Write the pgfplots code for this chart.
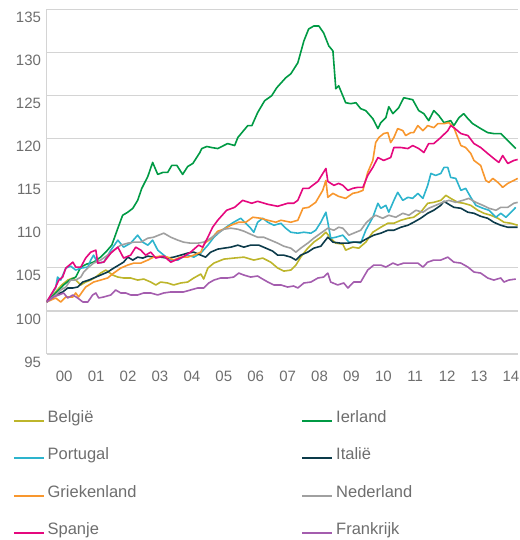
\documentclass[border=0pt]{standalone}
\usepackage{pgfplots}
\pgfplotsset{compat=1.18}
\usepackage{fontspec}
\setmainfont{Liberation Sans}
\definecolor{cBE}{HTML}{BDB52B}
\definecolor{cIE}{HTML}{009A44}
\definecolor{cPT}{HTML}{2DB4CD}
\definecolor{cIT}{HTML}{0C3B4A}
\definecolor{cGR}{HTML}{F8972E}
\definecolor{cNL}{HTML}{A0A0A0}
\definecolor{cES}{HTML}{E5087E}
\definecolor{cFR}{HTML}{A45DAE}
\definecolor{txt}{HTML}{6E6E6E}
\definecolor{grd}{HTML}{D4D4D4}
\newcommand{\st}{\rule[-4pt]{0pt}{16pt}}
\begin{document}
\begin{tikzpicture}
\begin{axis}[
  scale only axis, width=471.3pt, height=344.7pt,
  xmin=0, xmax=14.77, ymin=95, ymax=135,
  ytick={95,100,105,110,115,120,125,130,135},
  xtick={0.55,1.55,2.55,3.55,4.55,5.55,6.55,7.55,8.55,9.55,10.55,11.55,12.55,13.55,14.55},
  xticklabels={00,01,02,03,04,05,06,07,08,09,10,11,12,13,14},
  axis lines=left,
  axis line style={draw=grd, line width=1.3pt, -},
  ymajorgrids, grid style={draw=grd, line width=1.3pt},
  major tick length=0pt,
  /pgf/number format/assume math mode=true,
  tick label style={font=\fontsize{15}{15}\selectfont, text=txt},
  yticklabel style={anchor=east, inner sep=0pt, xshift=-5.5pt, yshift=-8pt},
  xticklabel style={anchor=north, inner sep=0pt, yshift=-17pt},
  legend columns=2,
  legend cell align=left,
  legend style={at={(axis description cs:-0.0715,-0.1625)}, anchor=north west,
    draw=none, fill=none, inner sep=0pt, outer sep=0pt,
    column sep=3pt, row sep=24pt,
    font=\fontsize{16.5}{16.5}\selectfont, text=txt, nodes={inner sep=0pt}},
  legend image code/.code={\draw[#1] (0pt,-4pt) -- (30pt,-4pt);},
  every axis plot/.append style={line width=1.6pt, line join=round},
]
% Belgie
\addplot[cBE] coordinates {(0,101.04) (0.25,102.08) (0.47,103.01) (0.66,103.58) (0.82,103.82) (0.91,103.58) (1.07,103.01) (1.22,103.35) (1.38,103.58) (1.54,103.93) (1.69,104.39) (1.85,104.74) (1.94,104.51) (2.07,104.16) (2.23,103.93) (2.41,103.82) (2.63,103.82) (2.85,103.58) (3.04,103.70) (3.26,103.35) (3.42,103.01) (3.57,103.35) (3.79,103.24) (3.98,103.01) (4.20,103.24) (4.42,103.35) (4.61,103.82) (4.83,104.28) (4.92,103.70) (5.05,104.97) (5.24,105.55) (5.55,106.01) (5.86,106.13) (6.18,106.24) (6.49,105.90) (6.77,106.13) (7.02,105.66) (7.24,104.97) (7.43,104.62) (7.65,104.74) (7.81,105.32) (7.96,106.24) (8.18,107.28) (8.37,107.98) (8.59,108.55) (8.75,109.13) (8.90,108.44) (9.06,107.86) (9.28,107.75) (9.37,107.05) (9.59,107.40) (9.78,107.28) (10.00,107.98) (10.22,109.13) (10.47,109.71) (10.69,110.17) (10.88,110.17) (11.10,110.52) (11.32,110.75) (11.50,110.87) (11.72,111.45) (11.94,112.49) (12.13,112.60) (12.35,112.83) (12.51,113.41) (12.66,113.06) (12.88,112.60) (13.07,112.49) (13.29,112.25) (13.51,111.68) (13.70,111.33) (13.92,111.10) (14.14,110.75) (14.33,110.29) (14.55,110.17) (14.76,109.94)};
\addlegendentry{\makebox[251pt][l]{\st België}}
% Ierland
\addplot[cIE] coordinates {(0,101.04) (0.19,101.73) (0.38,102.43) (0.53,103.01) (0.72,103.58) (0.91,103.93) (1.07,105.09) (1.25,105.43) (1.47,105.66) (1.69,106.24) (1.85,106.82) (2.04,107.63) (2.23,109.60) (2.38,111.10) (2.54,111.45) (2.70,111.91) (2.85,112.83) (2.98,114.22) (3.17,115.61) (3.32,117.23) (3.48,115.84) (3.64,116.07) (3.79,116.07) (3.92,116.88) (4.08,116.88) (4.26,115.84) (4.42,116.76) (4.58,117.11) (4.80,118.38) (4.86,118.84) (5.02,119.08) (5.17,118.96) (5.36,118.84) (5.67,119.42) (5.89,119.19) (5.99,120.12) (6.30,121.50) (6.43,121.50) (6.61,123.01) (6.83,124.39) (7.05,124.97) (7.21,125.90) (7.49,127.05) (7.65,127.51) (7.87,128.79) (8.06,131.33) (8.21,132.72) (8.37,133.06) (8.53,133.06) (8.68,132.25) (8.84,130.75) (8.97,130.17) (9.06,125.78) (9.15,126.13) (9.37,124.16) (9.53,124.05) (9.69,124.16) (9.84,123.47) (10.00,123.24) (10.22,122.31) (10.38,121.16) (10.47,121.85) (10.63,122.43) (10.72,123.70) (10.85,122.89) (11.03,123.58) (11.19,124.74) (11.47,124.51) (11.66,123.24) (11.82,122.89) (11.97,122.08) (12.13,123.24) (12.29,122.66) (12.45,121.85) (12.66,122.08) (12.76,121.50) (12.92,122.43) (13.07,122.89) (13.20,122.31) (13.35,121.73) (13.60,121.16) (13.82,120.69) (14.01,120.58) (14.23,120.58) (14.45,119.77) (14.70,118.84)};
\addlegendentry{\st Ierland}
% Portugal
\addplot[cPT] coordinates {(0,101.04) (0.28,102.66) (0.34,103.93) (0.44,103.58) (0.60,104.97) (0.75,105.20) (0.91,104.74) (1.07,104.97) (1.29,105.09) (1.38,105.90) (1.47,106.47) (1.60,105.55) (1.79,105.66) (2.01,107.05) (2.23,108.21) (2.41,107.40) (2.63,107.86) (2.85,108.79) (3.01,107.98) (3.17,107.63) (3.32,108.21) (3.48,107.05) (3.67,106.47) (3.89,105.90) (4.11,105.90) (4.26,106.24) (4.42,106.47) (4.61,106.24) (4.83,106.71) (5.05,107.63) (5.24,108.55) (5.45,109.25) (5.67,109.83) (5.86,110.29) (6.08,110.75) (6.24,110.17) (6.39,109.60) (6.49,109.13) (6.61,110.29) (6.77,110.75) (6.93,110.29) (7.12,109.94) (7.34,110.17) (7.49,109.60) (7.65,109.13) (7.87,109.02) (8.06,109.13) (8.28,109.02) (8.43,109.36) (8.59,110.29) (8.75,111.45) (8.81,110.29) (8.90,108.44) (9.06,108.55) (9.28,108.79) (9.47,107.98) (9.69,107.98) (9.84,107.86) (10.00,109.36) (10.22,110.87) (10.38,112.49) (10.47,111.91) (10.63,112.25) (10.72,111.45) (10.88,112.83) (11.00,113.76) (11.16,112.83) (11.32,113.18) (11.47,113.06) (11.63,113.64) (11.79,113.06) (11.94,114.57) (12.04,115.95) (12.19,115.72) (12.35,115.95) (12.45,116.65) (12.57,116.65) (12.66,115.49) (12.82,115.38) (12.98,113.99) (13.13,114.22) (13.29,113.18) (13.45,112.25) (13.67,111.91) (13.86,111.68) (14.08,110.87) (14.23,111.33) (14.39,110.87) (14.55,111.45) (14.70,112.02)};
\addlegendentry{\makebox[251pt][l]{\st Portugal}}
% Italie
\addplot[cIT] coordinates {(0,101.04) (0.28,101.85) (0.50,102.20) (0.66,102.66) (0.82,102.66) (0.97,102.77) (1.13,103.35) (1.32,103.58) (1.54,103.93) (1.69,104.16) (1.91,104.51) (2.10,104.97) (2.26,105.32) (2.41,105.66) (2.54,106.24) (2.70,105.90) (2.85,106.24) (3.01,106.13) (3.17,106.36) (3.35,106.24) (3.57,106.24) (3.79,106.13) (3.98,106.24) (4.20,106.47) (4.42,106.71) (4.61,106.82) (4.83,106.47) (4.98,106.24) (5.14,106.82) (5.36,107.17) (5.55,107.28) (5.77,107.40) (5.99,107.63) (6.18,107.40) (6.39,107.63) (6.65,107.63) (6.87,107.28) (7.08,106.94) (7.24,106.47) (7.43,106.47) (7.65,106.24) (7.81,105.90) (7.96,106.47) (8.18,106.82) (8.37,107.28) (8.59,107.51) (8.81,108.55) (8.97,107.98) (9.22,107.86) (9.44,107.86) (9.62,107.98) (9.84,107.98) (10.06,108.44) (10.25,108.79) (10.47,109.02) (10.69,109.36) (10.88,109.36) (11.10,109.71) (11.32,109.94) (11.50,110.29) (11.72,110.75) (11.94,111.33) (12.13,111.68) (12.35,112.25) (12.45,112.72) (12.60,112.37) (12.76,112.02) (12.98,111.91) (13.20,111.45) (13.39,111.33) (13.60,110.98) (13.82,110.75) (14.01,110.29) (14.23,109.94) (14.45,109.71) (14.76,109.71)};
\addlegendentry{\st Italië}
% Griekenland
\addplot[cGR] coordinates {(0,101.04) (0.28,101.50) (0.44,101.04) (0.60,101.62) (0.82,101.62) (0.91,102.08) (1.00,101.62) (1.22,102.77) (1.47,103.35) (1.69,103.58) (1.91,103.82) (2.10,104.39) (2.32,104.97) (2.54,105.32) (2.73,105.55) (2.95,105.55) (3.17,105.90) (3.35,106.24) (3.57,106.36) (3.79,106.24) (3.98,105.90) (4.20,106.24) (4.42,106.24) (4.61,106.47) (4.83,106.82) (4.95,107.86) (5.17,108.44) (5.36,109.25) (5.55,109.48) (5.77,109.94) (6.02,110.29) (6.24,110.29) (6.46,110.87) (6.71,110.75) (6.93,110.52) (7.18,110.29) (7.34,110.52) (7.65,110.29) (7.87,110.52) (8.03,111.91) (8.21,112.02) (8.43,112.60) (8.65,113.99) (8.75,115.14) (8.81,113.18) (8.97,113.64) (9.15,113.29) (9.37,113.06) (9.59,113.64) (9.75,113.76) (9.91,113.99) (10.06,116.07) (10.22,117.46) (10.31,119.54) (10.41,120.12) (10.56,120.58) (10.69,120.69) (10.78,119.54) (10.88,120.12) (11.00,121.16) (11.16,120.92) (11.25,120.35) (11.41,120.69) (11.50,120.69) (11.63,121.50) (11.79,120.92) (11.94,121.50) (12.13,121.27) (12.26,121.73) (12.45,121.73) (12.60,121.85) (12.76,121.27) (12.88,120.12) (12.98,119.19) (13.13,118.96) (13.29,118.27) (13.39,117.46) (13.60,116.88) (13.76,115.14) (13.86,114.91) (13.98,115.38) (14.14,114.91) (14.29,114.34) (14.45,114.80) (14.64,115.14) (14.76,115.38)};
\addlegendentry{\makebox[251pt][l]{\st Griekenland}}
% Nederland
\addplot[cNL] coordinates {(0,101.04) (0.28,101.85) (0.44,102.43) (0.60,102.77) (0.75,103.58) (0.91,103.58) (1.07,103.93) (1.16,104.51) (1.32,105.09) (1.47,105.55) (1.69,105.90) (1.91,106.47) (2.10,107.05) (2.32,107.63) (2.54,107.86) (2.73,107.98) (2.95,107.98) (3.17,108.44) (3.35,108.55) (3.51,108.79) (3.67,109.02) (3.89,108.55) (4.11,108.21) (4.29,107.98) (4.51,107.86) (4.73,107.86) (4.92,107.98) (5.14,108.44) (5.36,109.02) (5.55,109.48) (5.77,109.60) (5.99,109.48) (6.18,109.25) (6.39,108.90) (6.61,108.55) (6.80,108.55) (7.02,108.21) (7.24,107.86) (7.43,107.51) (7.65,107.28) (7.81,106.82) (7.96,107.28) (8.18,107.86) (8.37,108.44) (8.59,109.02) (8.81,109.60) (9.00,109.36) (9.15,109.71) (9.28,109.60) (9.47,108.79) (9.69,109.13) (9.84,109.36) (10.00,110.17) (10.16,110.75) (10.31,111.10) (10.53,110.75) (10.72,111.10) (10.94,110.87) (11.16,111.33) (11.35,111.10) (11.57,111.68) (11.79,111.45) (11.97,111.91) (12.19,112.25) (12.41,112.60) (12.60,112.83) (12.82,112.60) (13.04,112.83) (13.23,113.06) (13.45,112.60) (13.67,112.25) (13.86,111.91) (14.08,111.68) (14.23,112.02) (14.45,112.02) (14.64,112.49) (14.76,112.60)};
\addlegendentry{\st Nederland}
% Spanje
\addplot[cES] coordinates {(0,101.04) (0.28,102.77) (0.38,103.58) (0.50,103.93) (0.60,104.97) (0.82,105.66) (0.91,105.09) (1.07,105.09) (1.22,106.13) (1.38,106.82) (1.54,107.05) (1.60,105.55) (1.79,105.66) (2.01,106.71) (2.23,107.40) (2.41,106.13) (2.63,106.47) (2.79,107.40) (2.95,107.05) (3.10,106.47) (3.26,106.82) (3.42,106.13) (3.67,106.36) (3.89,105.66) (4.04,105.90) (4.26,106.24) (4.51,106.82) (4.76,107.63) (4.89,107.40) (5.05,108.55) (5.20,109.71) (5.36,110.52) (5.64,111.68) (5.89,112.02) (6.14,112.83) (6.43,112.49) (6.61,112.72) (6.93,112.37) (7.24,112.14) (7.55,112.49) (7.74,112.49) (7.87,112.83) (8.03,114.22) (8.21,114.22) (8.50,115.03) (8.75,116.53) (8.81,115.03) (9.00,114.57) (9.15,114.80) (9.28,114.57) (9.44,113.99) (9.59,114.22) (9.75,114.34) (9.91,114.34) (10.06,115.72) (10.22,116.65) (10.38,117.80) (10.56,117.46) (10.78,117.80) (10.88,118.96) (11.10,118.96) (11.32,118.84) (11.47,119.19) (11.66,118.84) (11.82,118.38) (11.97,119.42) (12.13,119.42) (12.35,120.12) (12.57,120.92) (12.66,121.50) (12.76,121.27) (12.98,120.58) (13.20,120.35) (13.39,119.42) (13.60,118.96) (13.82,118.27) (14.01,117.69) (14.17,117.23) (14.29,118.03) (14.45,117.11) (14.64,117.46) (14.76,117.57)};
\addlegendentry{\makebox[251pt][l]{\st Spanje}}
% Frankrijk
\addplot[cFR] coordinates {(0,101.04) (0.22,101.62) (0.38,101.85) (0.53,102.08) (0.66,101.50) (0.82,101.85) (0.97,101.50) (1.13,101.04) (1.29,101.04) (1.44,101.85) (1.54,102.08) (1.63,101.50) (1.79,101.62) (2.01,101.85) (2.16,102.43) (2.32,102.08) (2.48,102.08) (2.63,101.85) (2.85,101.85) (3.04,102.08) (3.26,102.08) (3.48,101.85) (3.67,102.08) (3.89,102.20) (4.11,102.20) (4.29,102.20) (4.51,102.43) (4.73,102.66) (4.92,102.66) (5.08,103.24) (5.24,103.58) (5.45,103.82) (5.67,103.82) (5.86,103.93) (6.02,104.39) (6.18,104.16) (6.39,103.93) (6.61,104.05) (6.71,103.82) (6.93,103.35) (7.12,103.01) (7.34,103.01) (7.55,102.77) (7.74,102.89) (7.87,102.66) (8.06,103.24) (8.28,103.35) (8.50,103.82) (8.68,103.93) (8.81,104.39) (8.90,103.35) (9.12,103.01) (9.31,103.24) (9.44,102.66) (9.62,103.35) (9.84,103.35) (10.06,104.74) (10.25,105.32) (10.47,105.32) (10.63,105.09) (10.85,105.55) (11.00,105.32) (11.19,105.55) (11.41,105.55) (11.63,105.55) (11.79,105.09) (11.94,105.66) (12.13,105.90) (12.35,105.90) (12.57,106.24) (12.76,105.66) (12.98,105.55) (13.20,105.09) (13.39,104.51) (13.60,104.39) (13.82,103.82) (14.01,103.58) (14.23,103.82) (14.33,103.35) (14.48,103.58) (14.70,103.70)};
\addlegendentry{\st Frankrijk}
\end{axis}
\path ([shift={(-46.7pt,-186pt)}]current axis.south west) rectangle ([shift={(0pt,9.3pt)}]current axis.north east);
\end{tikzpicture}
\end{document}
